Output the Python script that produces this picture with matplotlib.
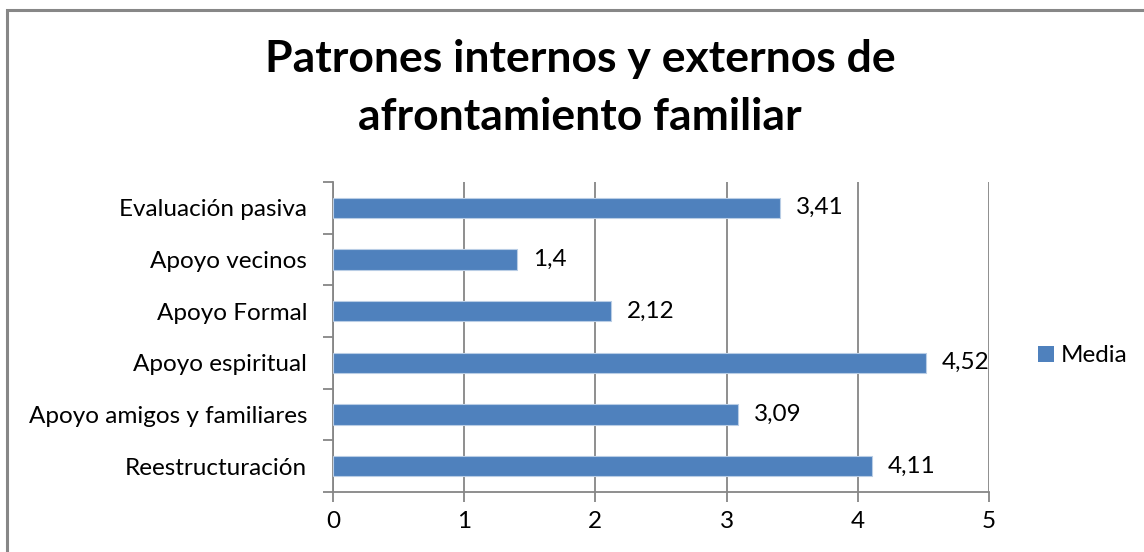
import matplotlib
matplotlib.use("Agg")
import matplotlib.pyplot as plt
from matplotlib.patches import Rectangle, Patch

categories = ["Reestructuración", "Apoyo amigos y familiares", "Apoyo espiritual",
              "Apoyo Formal", "Apoyo vecinos", "Evaluación pasiva"]
media = [4.11, 3.09, 4.52, 2.12, 1.4, 3.41]
xticks = [0, 1, 2, 3, 4, 5]
series_name = "Media"
title_lines = ["Patrones internos y externos de", "afrontamiento familiar"]

W, H = 1144, 552
plt.rcParams['font.family'] = ['Lato', 'DejaVu Sans']
fig = plt.figure(figsize=(W / 100, H / 100), dpi=100)

bar_color = "#4F81BD"
grid_color = "#868686"
fs = 17.5

# outer chart border (right/bottom edges fall outside the canvas)
fig.patches.append(Rectangle((7 / W, -0.1), 1.2, 1 - 10 / H + 0.1,
                             transform=fig.transFigure, fill=False,
                             edgecolor="#878787", linewidth=2.2))

ax = fig.add_axes([333 / W, 1 - 492 / H, (989 - 333) / W, (492 - 182) / H])
y = range(len(categories))
ax.barh(list(y), media, height=0.39, color=bar_color, edgecolor="#B9CDE5",
        linewidth=0.8, zorder=3)

for yi, v in zip(y, media):
    ax.annotate(str(v).replace(".", ","), (v, yi), xytext=(11.5, 0),
                textcoords="offset points", va="center", ha="left",
                fontsize=fs, color="black")

ax.set_xlim(0, 5)
ax.set_ylim(-0.5, len(categories) - 0.5)
ax.set_xticks(xticks)
ax.set_xticklabels([str(t) for t in xticks], fontsize=fs)
ax.set_yticks(list(y))
ax.set_yticklabels(categories, fontsize=fs)
ax.tick_params(axis="y", length=0, pad=18.5)
ax.set_yticks([i - 0.5 for i in range(len(categories) + 1)], minor=True)
ax.tick_params(axis="y", which="minor", length=7, width=1.3, color=grid_color)
ax.tick_params(axis="x", length=7, width=1.3, color=grid_color, pad=7)

ax.grid(axis="x", color=grid_color, linewidth=1.3, zorder=0)
for s in ["top", "right"]:
    ax.spines[s].set_visible(False)
for s in ["left", "bottom"]:
    ax.spines[s].set_color(grid_color)
    ax.spines[s].set_linewidth(1.3)

for line, base in zip(title_lines, [72, 130]):
    fig.text(580 / W, 1 - base / H, line, ha="center", va="baseline",
             fontsize=32, fontweight="bold")

fig.legend(handles=[Patch(facecolor=bar_color, label=series_name)],
           loc="center left", bbox_to_anchor=(1026 / W, 1 - 356 / H),
           frameon=False, fontsize=fs, handlelength=0.65, handleheight=0.65,
           handletextpad=0.28, borderpad=0)

fig.savefig("out.png", dpi=100)
